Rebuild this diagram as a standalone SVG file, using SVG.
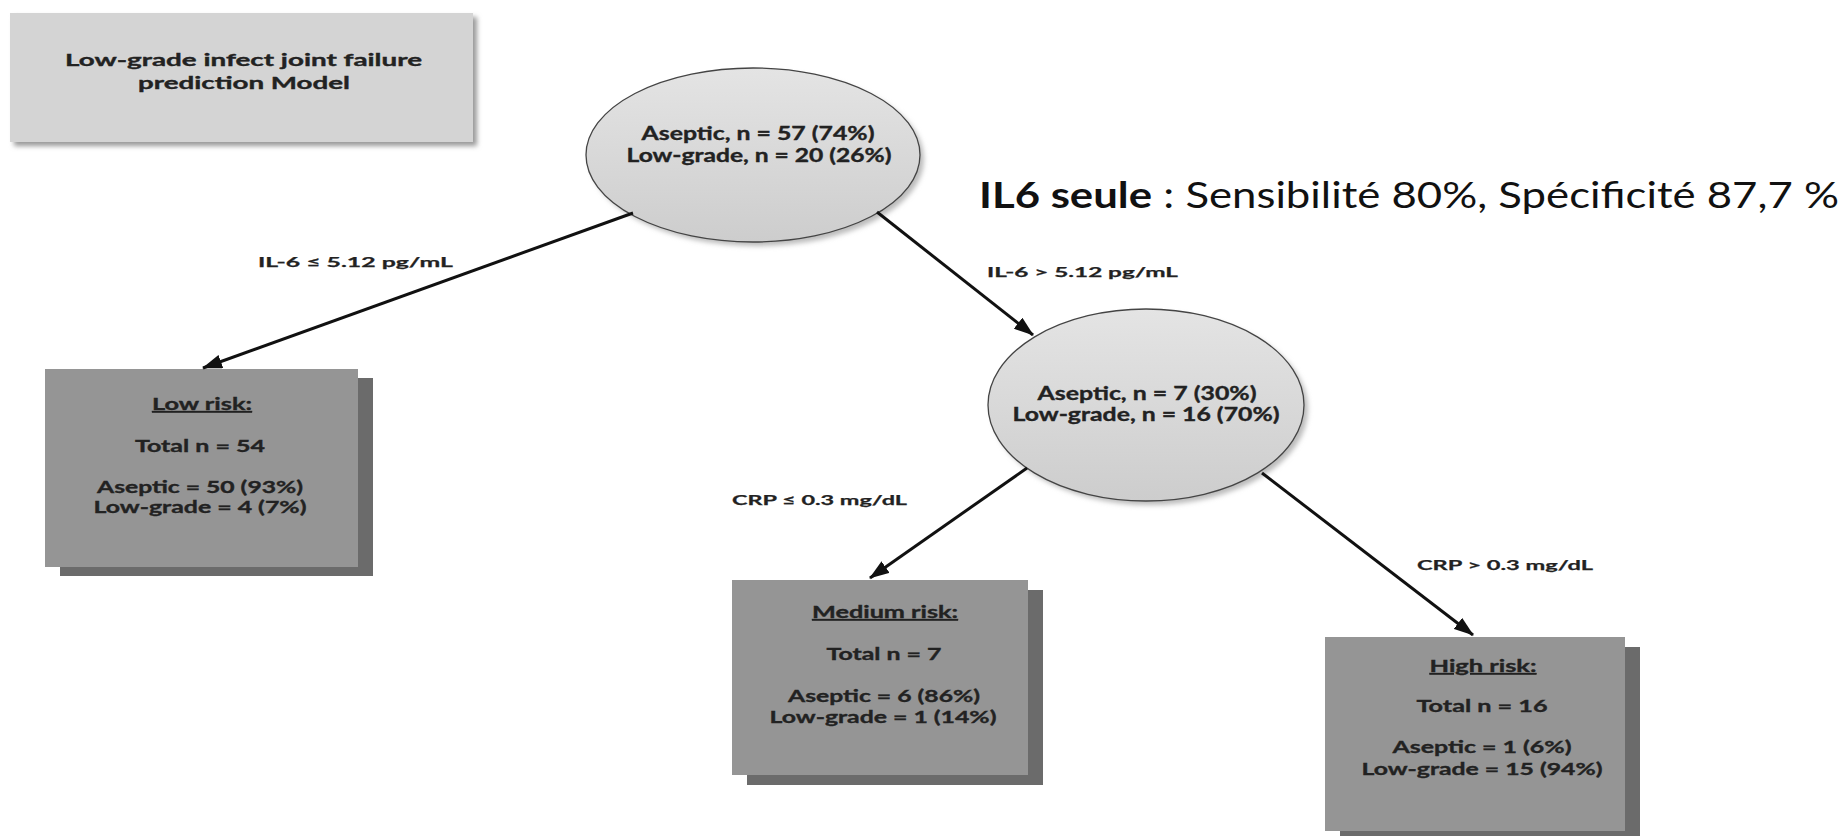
<svg xmlns="http://www.w3.org/2000/svg" width="1846" height="836" viewBox="0 0 1846 836">
  <defs>
    <style>
      .t{font-family:Lato,"Open Sans","Liberation Sans",sans-serif;font-weight:bold;fill:#222;stroke:#222;stroke-width:0.35;text-anchor:middle}
      .ell{font-size:18px}
      .box{font-size:17px}
      .lbl{font-size:14px;text-anchor:start;stroke-width:0.25}
      .u{text-decoration:underline}
      .riskbox{fill:#959595}
      .riskshadow{fill:#6b6b6b}
      .conn{stroke:#111;stroke-width:3;fill:none}
    </style>
    <linearGradient id="ellgrad" x1="0" y1="0" x2="0" y2="1">
      <stop offset="0" stop-color="#e4e4e4"/>
      <stop offset="1" stop-color="#cdcdcd"/>
    </linearGradient>
    <filter id="blur" x="-10%" y="-10%" width="120%" height="120%">
      <feGaussianBlur stdDeviation="2.5"/>
    </filter>
    <marker id="arrow" markerUnits="userSpaceOnUse" markerWidth="20" markerHeight="14" refX="19" refY="7" orient="auto">
      <path d="M0,0 L20,7 L0,14 z" fill="#111"/>
    </marker>
  </defs>
  <rect width="1846" height="836" fill="#ffffff"/>

  <g id="title">
    <rect x="14" y="17" width="463" height="129" fill="#9a9a9a" filter="url(#blur)"/>
    <rect x="10" y="13" width="463" height="129" fill="#d4d4d4"/>
    <text class="t box" x="243.5" y="66" textLength="357" lengthAdjust="spacingAndGlyphs">Low-grade infect joint failure</text>
    <text class="t box" x="244" y="89" textLength="212" lengthAdjust="spacingAndGlyphs">prediction Model</text>
  </g>

  <g id="note">
    <text x="979" y="208" font-family="Lato,'Open Sans','Liberation Sans',sans-serif" font-size="36" fill="#111" textLength="860" lengthAdjust="spacingAndGlyphs"><tspan font-weight="bold">IL6 seule</tspan> : Sensibilité 80%, Spécificité 87,7 %</text>
  </g>

  <g id="root">
    <ellipse cx="757" cy="159" rx="167" ry="87" fill="#bbbbbb" filter="url(#blur)"/>
    <ellipse cx="753" cy="155" rx="167" ry="87" fill="url(#ellgrad)" stroke="#444" stroke-width="1.3"/>
    <text class="t ell" x="758" y="140" textLength="233" lengthAdjust="spacingAndGlyphs">Aseptic, n = 57 (74%)</text>
    <text class="t ell" x="759" y="162" textLength="265" lengthAdjust="spacingAndGlyphs">Low-grade, n = 20 (26%)</text>
  </g>

  <g id="child">
    <ellipse cx="1150" cy="409" rx="158" ry="96" fill="#bbbbbb" filter="url(#blur)"/>
    <ellipse cx="1146" cy="405" rx="158" ry="96" fill="url(#ellgrad)" stroke="#444" stroke-width="1.3"/>
    <text class="t ell" x="1147" y="400" textLength="219" lengthAdjust="spacingAndGlyphs">Aseptic, n = 7 (30%)</text>
    <text class="t ell" x="1146" y="421" textLength="267" lengthAdjust="spacingAndGlyphs">Low-grade, n = 16 (70%)</text>
  </g>

  <g id="low-risk">
    <rect class="riskshadow" x="60" y="378" width="313" height="198"/>
    <rect class="riskbox" x="45" y="369" width="313" height="198"/>
    <text class="t box u" x="202" y="410" textLength="100" lengthAdjust="spacingAndGlyphs">Low risk:</text>
    <text class="t box" x="200" y="452" textLength="130" lengthAdjust="spacingAndGlyphs">Total n = 54</text>
    <text class="t box" x="200" y="493" textLength="206" lengthAdjust="spacingAndGlyphs">Aseptic = 50 (93%)</text>
    <text class="t box" x="200" y="513" textLength="213" lengthAdjust="spacingAndGlyphs">Low-grade = 4 (7%)</text>
  </g>

  <g id="medium-risk">
    <rect class="riskshadow" x="747" y="590" width="296" height="195"/>
    <rect class="riskbox" x="732" y="580" width="296" height="195"/>
    <text class="t box u" x="885" y="618" textLength="146" lengthAdjust="spacingAndGlyphs">Medium risk:</text>
    <text class="t box" x="884" y="660" textLength="115" lengthAdjust="spacingAndGlyphs">Total n = 7</text>
    <text class="t box" x="884" y="702" textLength="192" lengthAdjust="spacingAndGlyphs">Aseptic = 6 (86%)</text>
    <text class="t box" x="883" y="723" textLength="227" lengthAdjust="spacingAndGlyphs">Low-grade = 1 (14%)</text>
  </g>

  <g id="high-risk">
    <rect class="riskshadow" x="1340" y="647" width="300" height="195"/>
    <rect class="riskbox" x="1325" y="637" width="300" height="194"/>
    <text class="t box u" x="1483" y="672" textLength="107" lengthAdjust="spacingAndGlyphs">High risk:</text>
    <text class="t box" x="1482" y="712" textLength="131" lengthAdjust="spacingAndGlyphs">Total n = 16</text>
    <text class="t box" x="1482" y="753" textLength="179" lengthAdjust="spacingAndGlyphs">Aseptic = 1 (6%)</text>
    <text class="t box" x="1482" y="775" textLength="241" lengthAdjust="spacingAndGlyphs">Low-grade = 15 (94%)</text>
  </g>

  <g id="connectors">
    <line class="conn" x1="633" y1="213" x2="203" y2="368" marker-end="url(#arrow)"/>
    <line class="conn" x1="877" y1="212" x2="1033" y2="335" marker-end="url(#arrow)"/>
    <line class="conn" x1="1027" y1="468" x2="870" y2="578" marker-end="url(#arrow)"/>
    <line class="conn" x1="1262" y1="473" x2="1473" y2="635" marker-end="url(#arrow)"/>
    <text class="t lbl" x="258" y="267" textLength="195" lengthAdjust="spacingAndGlyphs">IL-6 ≤ 5.12 pg/mL</text>
    <text class="t lbl" x="987" y="277" textLength="191" lengthAdjust="spacingAndGlyphs">IL-6 &gt; 5.12 pg/mL</text>
    <text class="t lbl" x="732" y="505" textLength="175" lengthAdjust="spacingAndGlyphs">CRP ≤ 0.3 mg/dL</text>
    <text class="t lbl" x="1417" y="570" textLength="176" lengthAdjust="spacingAndGlyphs">CRP &gt; 0.3 mg/dL</text>
  </g>
</svg>
